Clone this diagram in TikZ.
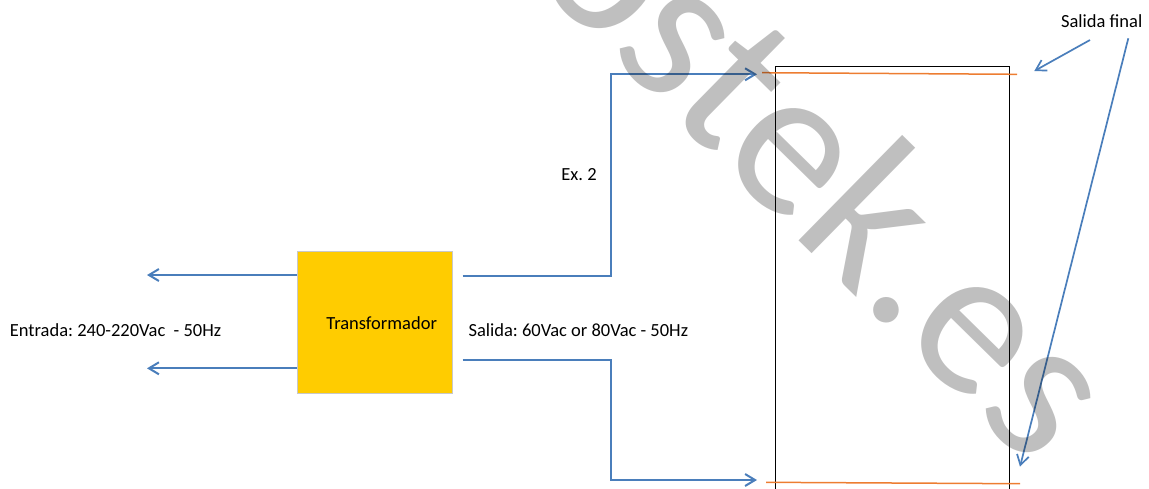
\documentclass[tikz,border=0pt]{standalone}
\usepackage{fontspec}
\setmainfont{Carlito}
\usetikzlibrary{arrows.meta}
\definecolor{lineblue}{HTML}{4A7EBB}
\definecolor{trafo}{HTML}{FFCC00}
\definecolor{orangeline}{HTML}{ED7D31}
\definecolor{boxedge}{HTML}{C8C8C8}
\frenchspacing
\begin{document}
\begin{tikzpicture}[x=1pt,y=-1pt,
  lbl/.style={inner sep=0pt, font=\fontsize{18.5}{22}\selectfont, text=black},
  bluearrow/.style={draw=lineblue, line width=2pt, line join=miter, -{Straight Barb[length=10pt,width=12pt]}},
  thinarrow/.style={draw=lineblue, line width=1.7pt, -{Straight Barb[length=10pt,width=12pt]}},
  tbox/.style={draw=boxedge, line width=0.8pt, fill=trafo, inner sep=0pt},
  outbox/.style={draw=black, line width=1pt, inner sep=0pt},
  oline/.style={draw=orangeline, line width=1.5pt},
  wmark/.style={inner sep=0pt, anchor=base west, rotate=-44.5, text=black, text opacity=0.25, font=\fontsize{213}{213}\selectfont}]
\useasboundingbox (0,0) rectangle (1149,488);

% transformer
\node[tbox, minimum width=154.7pt, minimum height=141.6pt] (tr) at (374.65,322.5) {};
\node[lbl] (trt) at (381.7,322.7) {Transformador};

% output box
\node[outbox, anchor=north west, minimum width=234pt, minimum height=440pt] (out) at (775.3,65.7) {};

% labels
\node[lbl] (entrada) at (115.5,330) {Entrada: 240-220Vac~~- 50Hz};
\node[lbl] (salida) at (578.3,329.7) {Salida: 60Vac or 80Vac - 50Hz};
\node[lbl] (ex2) at (579,175) {Ex.\ 2};
\node[lbl] (sf) at (1101.7,21) {Salida final};

% input arrows
\coordinate (in1) at (147,275);
\coordinate (in2) at (147,368.3);
\draw[bluearrow] (tr.west |- in1) -- (in1);
\draw[bluearrow] (tr.west |- in2) -- (in2);

% output connectors
\coordinate (bx) at (610.7,0);
\coordinate (o1s) at (462.7,275.7);
\coordinate (o1e) at (757,74.3);
\coordinate (o2s) at (462.7,360);
\coordinate (o2e) at (757,480);
\draw[bluearrow] (o1s) -- (o1s -| bx) -- (bx |- o1e) -- (o1e);
\draw[bluearrow] (o2s) -- (o2s -| bx) -- (bx |- o2e) -- (o2e);

% orange lines
\coordinate (t1) at (762,72.7);
\coordinate (t2) at (1017,74.3);
\coordinate (b1) at (766,482.3);
\coordinate (b2) at (1020,483.7);
\draw[oline] (t1) -- (t2);
\draw[oline] (b1) -- (b2);

% salida final arrows
\coordinate (sfa) at (1090,40);
\coordinate (sfb) at (1034.3,71);
\coordinate (sfc) at (1128.3,38.3);
\coordinate (sfd) at (1020,466.7);
\draw[thinarrow] (sfa) -- (sfb);
\draw[thinarrow] (sfc) -- (sfd);

% watermark
\node[wmark] (wm) at (527,-27) {ostek.es};
\end{tikzpicture}
\end{document}
